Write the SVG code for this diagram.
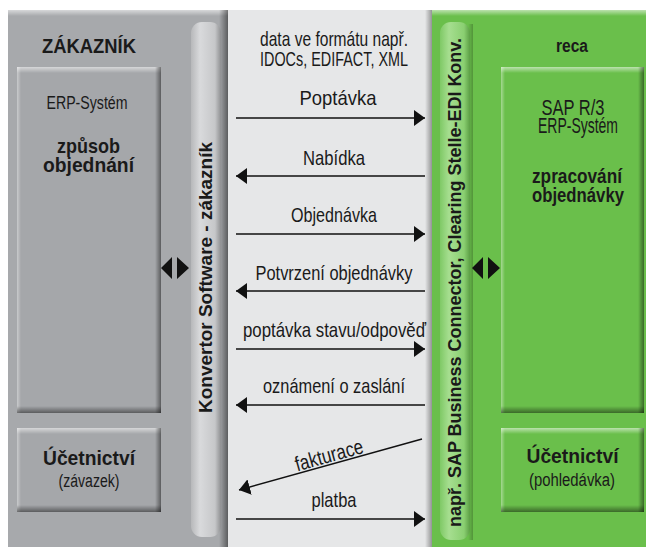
<svg xmlns="http://www.w3.org/2000/svg" width="646" height="547" viewBox="0 0 646 547">
<defs>
<linearGradient id="hiV" x1="0" y1="0" x2="0" y2="1"><stop offset="0" stop-color="#fff" stop-opacity="0.55"/><stop offset="1" stop-color="#fff" stop-opacity="0"/></linearGradient>
<linearGradient id="shV" x1="0" y1="0" x2="0" y2="1"><stop offset="0" stop-color="#000" stop-opacity="0"/><stop offset="1" stop-color="#000" stop-opacity="0.45"/></linearGradient>
<linearGradient id="shH" x1="0" y1="0" x2="1" y2="0"><stop offset="0" stop-color="#000" stop-opacity="0"/><stop offset="1" stop-color="#000" stop-opacity="0.45"/></linearGradient>
<linearGradient id="hiH" x1="0" y1="0" x2="1" y2="0"><stop offset="0" stop-color="#fff" stop-opacity="0.4"/><stop offset="1" stop-color="#fff" stop-opacity="0"/></linearGradient>
<linearGradient id="barGray" x1="0" y1="0" x2="1" y2="0"><stop offset="0" stop-color="#b7b8ba"/><stop offset="0.3" stop-color="#d9dadc"/><stop offset="0.8" stop-color="#c6c7c9"/><stop offset="1" stop-color="#8f9092"/></linearGradient>
<linearGradient id="barGreen" x1="0" y1="0" x2="1" y2="0"><stop offset="0" stop-color="#7fc966"/><stop offset="0.3" stop-color="#a6de90"/><stop offset="0.8" stop-color="#8acf71"/><stop offset="1" stop-color="#5c9f45"/></linearGradient>
<marker id="ah" viewBox="0 0 11 16" refX="11" refY="8" markerWidth="11" markerHeight="16" markerUnits="userSpaceOnUse" orient="auto"><path d="M0,0 L11,8 L0,16 Z" fill="#111"/></marker>
<style>
text{font-family:"Liberation Sans",Arial,sans-serif;fill:#1a1a1a;text-anchor:middle}
.r{font-size:21px}
.s{font-size:18px}
.b{font-size:21px;font-weight:bold}
.v{font-size:19px;font-weight:bold}
.gray{fill:#a7a9ac}
.gbox{fill:#a5a7aa}
.green{fill:#6abf4b}
.light{fill:#e6e7e8}
.hiV{fill:url(#hiV)}
.shV{fill:url(#shV)}
.shH{fill:url(#shH)}
.hiH{fill:url(#hiH)}
.ln{stroke:#111;stroke-width:1.4;fill:none;marker-end:url(#ah)}
.tri{fill:#111}
</style>
</defs>

<g id="panel-zakaznik">
<rect class="gray" x="8" y="10" width="220" height="537"/>
<rect class="hiV" x="8" y="10" width="220" height="6"/>
<rect class="shH" x="219" y="10" width="9" height="537"/>
<text class="v" x="89" y="53" style="font-size:20px" textLength="94" lengthAdjust="spacingAndGlyphs">ZÁKAZNÍK</text>
</g>

<g id="panel-data">
<rect class="light" x="228" y="10" width="204" height="537"/>
<rect class="shH" x="425" y="10" width="7" height="537" opacity="0.8"/>
<text class="r" x="334" y="46" textLength="148" lengthAdjust="spacingAndGlyphs">data ve formátu např.</text>
<text class="r" x="334" y="66" textLength="148" lengthAdjust="spacingAndGlyphs">IDOCs, EDIFACT, XML</text>
</g>

<g id="panel-reca">
<rect class="green" x="432" y="10" width="214" height="537"/>
<rect class="hiV" x="432" y="10" width="214" height="6"/>
<text class="v" x="572" y="52" style="font-size:18px" textLength="32" lengthAdjust="spacingAndGlyphs">reca</text>
</g>

<g id="erp-zakaznik">
<rect class="gbox" x="17" y="67" width="144" height="346"/>
<rect class="hiV" x="17" y="67" width="144" height="6"/>
<rect class="hiH" x="17" y="67" width="4" height="346"/>
<rect class="shH" x="155" y="67" width="6" height="346"/>
<rect class="shV" x="17" y="406" width="144" height="7"/>
<text class="r" x="87" y="109" style="font-size:18px" textLength="81" lengthAdjust="spacingAndGlyphs">ERP-Systém</text>
<text class="b" x="88.5" y="153" textLength="63" lengthAdjust="spacingAndGlyphs">způsob</text>
<text class="b" x="88.5" y="172" textLength="91" lengthAdjust="spacingAndGlyphs">objednání</text>
</g>

<g id="ucetnictvi-zakaznik">
<rect class="gbox" x="17" y="428" width="144" height="84"/>
<rect class="hiV" x="17" y="428" width="144" height="6"/>
<rect class="hiH" x="17" y="428" width="4" height="84"/>
<rect class="shH" x="155" y="428" width="6" height="84"/>
<rect class="shV" x="17" y="505" width="144" height="7"/>
<text class="b" x="89" y="465" textLength="92" lengthAdjust="spacingAndGlyphs">Účetnictví</text>
<text class="s" x="89" y="487" textLength="61" lengthAdjust="spacingAndGlyphs">(závazek)</text>
</g>

<g id="konvertor">
<rect x="191" y="22" width="30" height="515" rx="11" fill="url(#barGray)"/>
<text class="v" transform="translate(212,277.5) rotate(-90)" textLength="271" lengthAdjust="spacingAndGlyphs">Konvertor Software - zákazník</text>
</g>

<g id="erp-reca">
<rect class="green" x="501" y="67" width="143" height="346"/>
<rect class="hiV" x="501" y="67" width="143" height="6"/>
<rect class="hiH" x="501" y="67" width="4" height="346"/>
<rect class="shH" x="638" y="67" width="6" height="346"/>
<rect class="shV" x="501" y="406" width="143" height="7"/>
<text class="r" x="573" y="115" style="font-size:22px" textLength="63" lengthAdjust="spacingAndGlyphs">SAP R/3</text>
<text class="r" x="578" y="133" style="font-size:22px" textLength="80" lengthAdjust="spacingAndGlyphs">ERP-Systém</text>
<text class="b" x="577" y="183" textLength="90" lengthAdjust="spacingAndGlyphs">zpracování</text>
<text class="b" x="578" y="202" textLength="92" lengthAdjust="spacingAndGlyphs">objednávky</text>
</g>

<g id="ucetnictvi-reca">
<rect class="green" x="501" y="428" width="143" height="84"/>
<rect class="hiV" x="501" y="428" width="143" height="6"/>
<rect class="hiH" x="501" y="428" width="4" height="84"/>
<rect class="shH" x="638" y="428" width="6" height="84"/>
<rect class="shV" x="501" y="505" width="143" height="7"/>
<text class="b" x="572.5" y="463" textLength="92" lengthAdjust="spacingAndGlyphs">Účetnictví</text>
<text class="s" x="572" y="486" textLength="86" lengthAdjust="spacingAndGlyphs">(pohledávka)</text>
</g>

<g id="edi-konvertor">
<rect class="shH" x="468" y="24" width="5" height="516" opacity="0.5"/>
<rect x="440" y="22" width="30" height="518" rx="11" fill="url(#barGreen)"/>
<text class="v" transform="translate(461,282.5) rotate(-90)" textLength="489" lengthAdjust="spacingAndGlyphs">např. SAP Business Connector, Clearing Stelle-EDI Konv.</text>
</g>

<g id="connectors">
<path class="tri" d="M161,268 L172,257 L172,279 Z M189,268 L177,257 L177,279 Z"/>
<path class="tri" d="M472,268 L483,257 L483,279 Z M500,268 L488,257 L488,279 Z"/>

<line class="ln" x1="236" y1="118" x2="425" y2="118"/>
<text class="r" x="338" y="105" textLength="77" lengthAdjust="spacingAndGlyphs">Poptávka</text>

<line class="ln" x1="425" y1="176" x2="236" y2="176"/>
<text class="r" x="334" y="165" textLength="62" lengthAdjust="spacingAndGlyphs">Nabídka</text>

<line class="ln" x1="236" y1="234" x2="425" y2="234"/>
<text class="r" x="334" y="222" textLength="86" lengthAdjust="spacingAndGlyphs">Objednávka</text>

<line class="ln" x1="425" y1="291" x2="236" y2="291"/>
<text class="r" x="334" y="280" textLength="157" lengthAdjust="spacingAndGlyphs">Potvrzení objednávky</text>

<line class="ln" x1="236" y1="349" x2="425" y2="349"/>
<text class="r" x="334.5" y="337" textLength="183" lengthAdjust="spacingAndGlyphs">poptávka stavu/odpověď</text>

<line class="ln" x1="425" y1="405" x2="236" y2="405"/>
<text class="r" x="334" y="393" textLength="142" lengthAdjust="spacingAndGlyphs">oznámení o zaslání</text>

<line class="ln" x1="422" y1="439" x2="239" y2="490"/>
<text class="r" transform="translate(331,462) rotate(-15.6)" textLength="70" lengthAdjust="spacingAndGlyphs">fakturace</text>

<line class="ln" x1="236" y1="519" x2="425" y2="519"/>
<text class="r" x="334" y="507" textLength="45" lengthAdjust="spacingAndGlyphs">platba</text>
</g>
</svg>
